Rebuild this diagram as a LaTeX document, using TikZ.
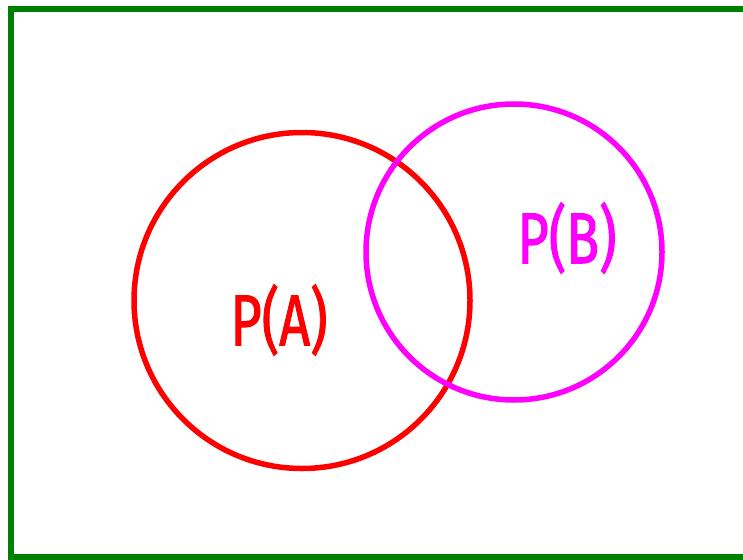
\documentclass[tikz,border=0pt]{standalone}
\usepackage{fontspec}
\setmainfont{Fira Sans}
\newfontfamily\lblfont{Fira Sans}[FakeBold=1.6]
\definecolor{frame}{RGB}{0,128,0}
\definecolor{ared}{RGB}{255,0,0}
\definecolor{bmag}{RGB}{255,0,255}
\tikzset{
  venn/.style={line width=5.5pt},
  lbl/.style={font=\lblfont\fontsize{72}{72}\selectfont, inner sep=0pt, xscale=0.75},
}
\begin{document}
\begin{tikzpicture}[x=1pt,y=-1pt]
\useasboundingbox (0,0) rectangle (743,559);
\draw[frame, line width=6pt] (750,9.5) -- (10.5,9.5) -- (10.5,557) -- (750,557);
\node[venn, draw=ared, circle, minimum size=336pt, inner sep=0pt] (A) at (302,300.5) {};
\node[venn, draw=bmag, circle, minimum size=296pt, inner sep=0pt] (B) at (514,252) {};
\node[lbl, text=ared] (PA) at (279,320) {P(A)};
\node[lbl, text=bmag] (PB) at (567,238) {P(B)};
\end{tikzpicture}
\end{document}
